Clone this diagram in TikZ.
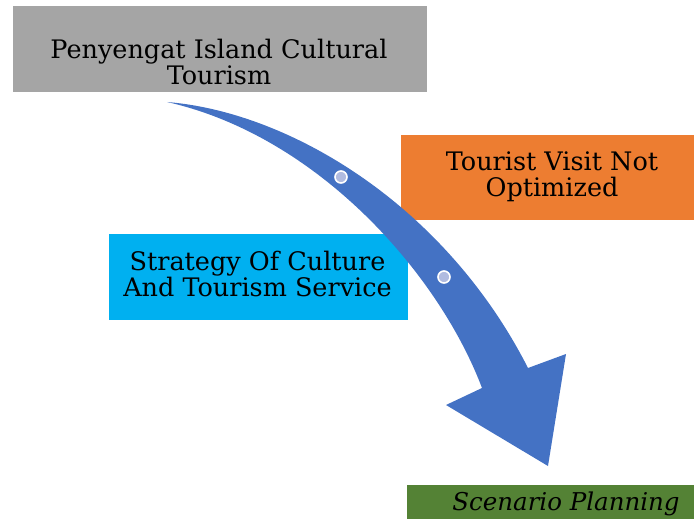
\documentclass[tikz,border=0pt]{standalone}
\usepackage{fontspec}
\setmainfont{DejaVu Serif}
\definecolor{boxgray}{HTML}{A5A5A5}
\definecolor{boxorange}{HTML}{ED7D31}
\definecolor{boxcyan}{HTML}{00B0F0}
\definecolor{boxgreen}{HTML}{548235}
\definecolor{arrowblue}{HTML}{4472C4}
\definecolor{dotfill}{HTML}{B0BBE0}
\tikzset{
  lbl/.style={align=center, font=\fontsize{25.5}{26.5}\selectfont, text=black, inner sep=0pt},
  dot/.style={circle, fill=dotfill, draw=white, line width=1.6pt, minimum size=12pt, inner sep=0pt}
}
\begin{document}
\begin{tikzpicture}[x=1pt,y=-1pt]
\useasboundingbox (0,0) rectangle (694,519);
% boxes
\fill[boxgray] (13,6) rectangle (427,92);
\fill[boxorange] (401,135) rectangle (694,220);
\fill[boxcyan] (109,234) rectangle (408,320);
\fill[boxgreen] (407,485) rectangle (694,519);
% curved arrow
\fill[arrowblue] (167,102) .. controls (290,112) and (445,205) .. (528,368)
  -- (566,354) -- (548,466) -- (446,405) -- (482,388)
  .. controls (439,274) and (318,136) .. (167,102) -- cycle;
\node[dot] (d1) at (341,177) {};
\node[dot] (d2) at (444,277) {};
% labels
\node[lbl] (t1) at (219,62) {Penyengat Island Cultural\\Tourism};
\node[lbl] (t2) at (552,177) {Tourist Visit Not\\Optimized};
\node[lbl] (t3) at (257.5,274) {Strategy Of Culture\\And Tourism Service};
\node[lbl, font=\fontsize{24.5}{26}\selectfont\itshape, anchor=base] (t4) at (566,510) {Scenario Planning};
\end{tikzpicture}
\end{document}
